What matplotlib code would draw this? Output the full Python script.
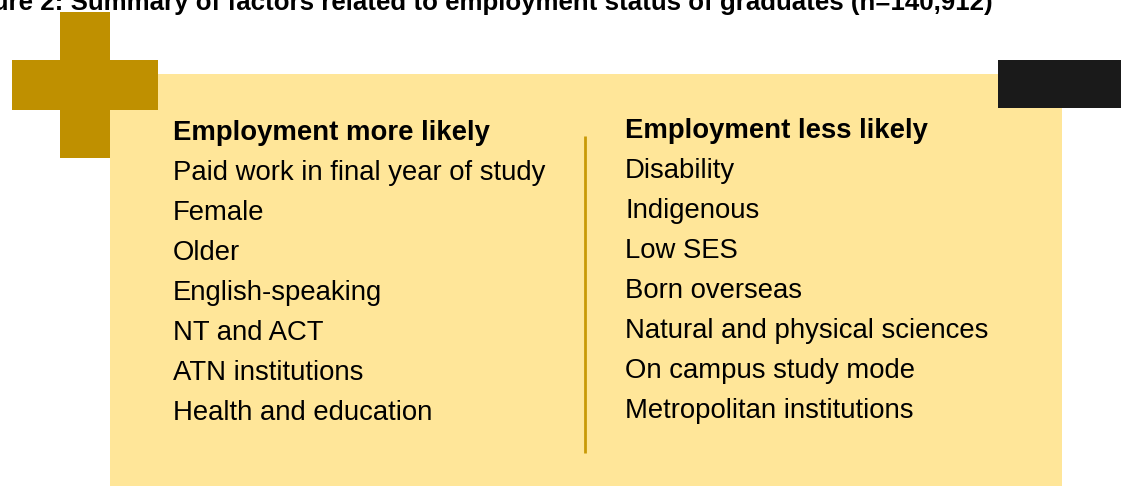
import matplotlib.pyplot as plt
from matplotlib.patches import Rectangle

W, H = 1121, 486

title = "Figure 2: Summary of factors related to employment status of graduates (n=140,912)"
more_header = "Employment more likely"
more_factors = [
    "Paid work in final year of study",
    "Female",
    "Older",
    "English-speaking",
    "NT and ACT",
    "ATN institutions",
    "Health and education",
]
less_header = "Employment less likely"
less_factors = [
    "Disability",
    "Indigenous",
    "Low SES",
    "Born overseas",
    "Natural and physical sciences",
    "On campus study mode",
    "Metropolitan institutions",
]

BOX = "#FFE699"
GOLD = "#BF9000"
LINE = "#C99A06"
DARK = "#1A1A1A"

plt.rcParams["font.family"] = ["Liberation Sans", "DejaVu Sans"]

fig = plt.figure(figsize=(W / 100, H / 100), dpi=100)
ax = fig.add_axes([0, 0, 1, 1])
ax.set_xlim(0, W)
ax.set_ylim(H, 0)
ax.axis("off")

# background panel, plus sign and dark tab (pixel units)
ax.add_patch(Rectangle((110, 74), 952, 420, color=BOX, lw=0))
ax.add_patch(Rectangle((60, 12), 50, 146, color=GOLD, lw=0))
ax.add_patch(Rectangle((12, 60), 146, 50, color=GOLD, lw=0))
ax.add_patch(Rectangle((998, 60), 130, 48, color=DARK, lw=0))

# divider
ax.plot([585, 585], [136, 453], color=LINE, lw=2, solid_capstyle="butt")

# title is clipped at the left/top edge in the original too
ax.text(993, 10, title, ha="right", va="baseline", fontsize=18.6,
        fontweight="bold", color="black")

FS = 19.8
row_gap = 40
ax.text(173, 140, more_header, fontsize=FS, fontweight="bold", va="baseline")
for i, f in enumerate(more_factors):
    ax.text(173, 140 + row_gap * (i + 1), f, fontsize=FS, va="baseline")

ax.text(625, 138, less_header, fontsize=FS, fontweight="bold", va="baseline")
for i, f in enumerate(less_factors):
    ax.text(625, 138 + row_gap * (i + 1), f, fontsize=FS, va="baseline")

fig.savefig("out.png", dpi=100)
